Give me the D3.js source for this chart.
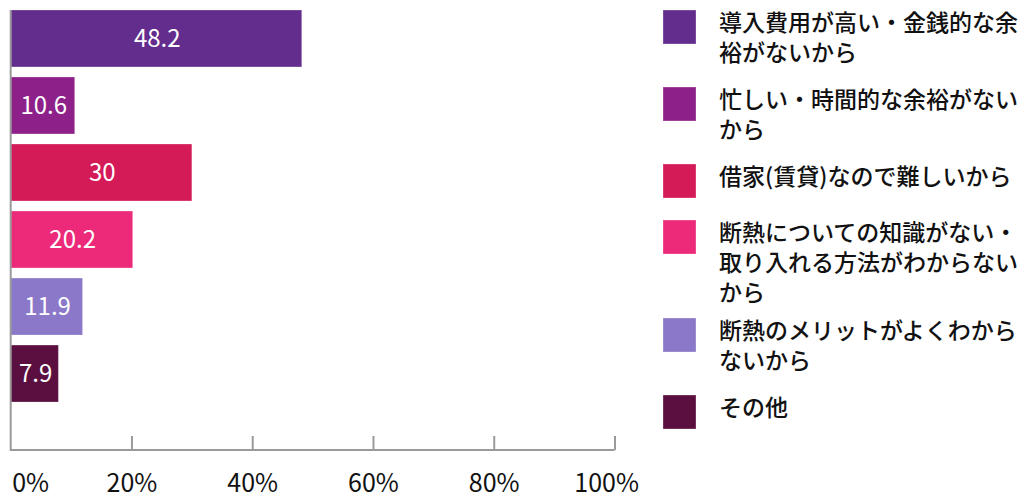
<!DOCTYPE html>
<html lang="ja">
<head>
<meta charset="utf-8">
<script src="https://cdn.jsdelivr.net/npm/d3@7"></script>
<style>
  html, body { margin: 0; padding: 0; background: #fff; }
  svg { display: block; font-family: "Noto Sans CJK JP", "Noto Sans", sans-serif; }
</style>
</head>
<body>
<svg id="chart" width="1030" height="497"></svg>
<script>
// Reasons for not adding insulation (%)
const categories = [
  "導入費用が高い・金銭的な余裕がないから",
  "忙しい・時間的な余裕がないから",
  "借家(賃貸)なので難しいから",
  "断熱についての知識がない・取り入れる方法がわからないから",
  "断熱のメリットがよくわからないから",
  "その他"
];
const values = [48.2, 10.6, 30, 20.2, 11.9, 7.9];
const legendLines = [
  ["導入費用が高い・金銭的な余", "裕がないから"],
  ["忙しい・時間的な余裕がない", "から"],
  ["借家(賃貸)なので難しいから"],
  ["断熱についての知識がない・", "取り入れる方法がわからない", "から"],
  ["断熱のメリットがよくわから", "ないから"],
  ["その他"]
];
const colors = ["#622d8c", "#8e2089", "#d51a58", "#ec2a79", "#8b78c8", "#5b0f40"];
const tickValues = [0, 20, 40, 60, 80, 100];

const svg = d3.select("#chart");

const x = d3.scaleLinear().domain([0, 100]).range([10.7, 614.5]);
const y = d3.scaleBand().domain(categories).range([3.3, 408.7])
  .paddingInner(0.15).paddingOuter(0.1);
const axisY = 450;
const axisColor = "#9a9a9a";

// bars
svg.append("g").selectAll("rect")
  .data(values)
  .join("rect")
  .attr("x", x(0))
  .attr("y", (d, i) => y(categories[i]))
  .attr("width", d => x(d) - x(0))
  .attr("height", y.bandwidth())
  .attr("fill", (d, i) => colors[i])
  .attr("stroke", "#ffffff")
  .attr("stroke-opacity", 0.25)
  .attr("stroke-width", 1);

// value labels centred in each bar
svg.append("g").selectAll("text")
  .data(values)
  .join("text")
  .attr("x", d => (x(0) + x(d)) / 2 + 1)
  .attr("y", (d, i) => y(categories[i]) + y.bandwidth() / 2)
  .attr("dy", "0.36em")
  .attr("text-anchor", "middle")
  .attr("fill", "#fff")
  .attr("font-size", 24)
  .text(d => String(d));

// x axis
const xAxis = d3.axisBottom(x)
  .tickValues(tickValues)
  .tickSize(0)
  .tickFormat(d => d + "%");

const gx = svg.append("g")
  .attr("transform", `translate(0,${axisY})`)
  .call(xAxis);
gx.select(".domain").attr("stroke", axisColor).attr("stroke-width", 2)
  .attr("d", `M${x(0)},0H${x(100)}`);
gx.selectAll(".tick line")
  .attr("y1", 0).attr("y2", -14)
  .attr("stroke", axisColor).attr("stroke-width", 2)
  .filter(d => d === 0).remove();
gx.selectAll(".tick text")
  .attr("y", 42).attr("dy", 0)
  .attr("fill", "#111")
  .attr("font-size", 25)
  .attr("font-family", "'Noto Sans CJK JP', sans-serif")
  .attr("text-anchor", d => d === 0 ? "start" : d === 100 ? "end" : "middle")
  .attr("dx", d => d === 0 ? 1 : d === 100 ? 24 : 0);

// vertical axis line
svg.append("line")
  .attr("x1", x(0)).attr("x2", x(0))
  .attr("y1", y(categories[0])).attr("y2", axisY + 1)
  .attr("stroke", axisColor).attr("stroke-width", 2);

// legend
const legend = svg.append("g").attr("transform", "translate(663,0)");
let itemTop = 10;
legendLines.forEach((lines, i) => {
  const item = legend.append("g").attr("transform", `translate(0,${itemTop})`);
  item.append("rect")
    .attr("x", 0).attr("y", 0)
    .attr("width", 33).attr("height", 34)
    .attr("fill", colors[i])
    .attr("stroke", "#ffffff").attr("stroke-opacity", 0.3);
  item.append("text")
    .attr("font-size", 23)
    .attr("font-weight", 500)
    .attr("fill", "#111")
    .selectAll("tspan")
    .data(lines)
    .join("tspan")
    .attr("x", 56)
    .attr("y", (d, j) => 21 + j * 30)
    .text(d => d);
  itemTop += lines.length === 1 ? 56 : 21 * lines.length + 35;
});
</script>
</body>
</html>
